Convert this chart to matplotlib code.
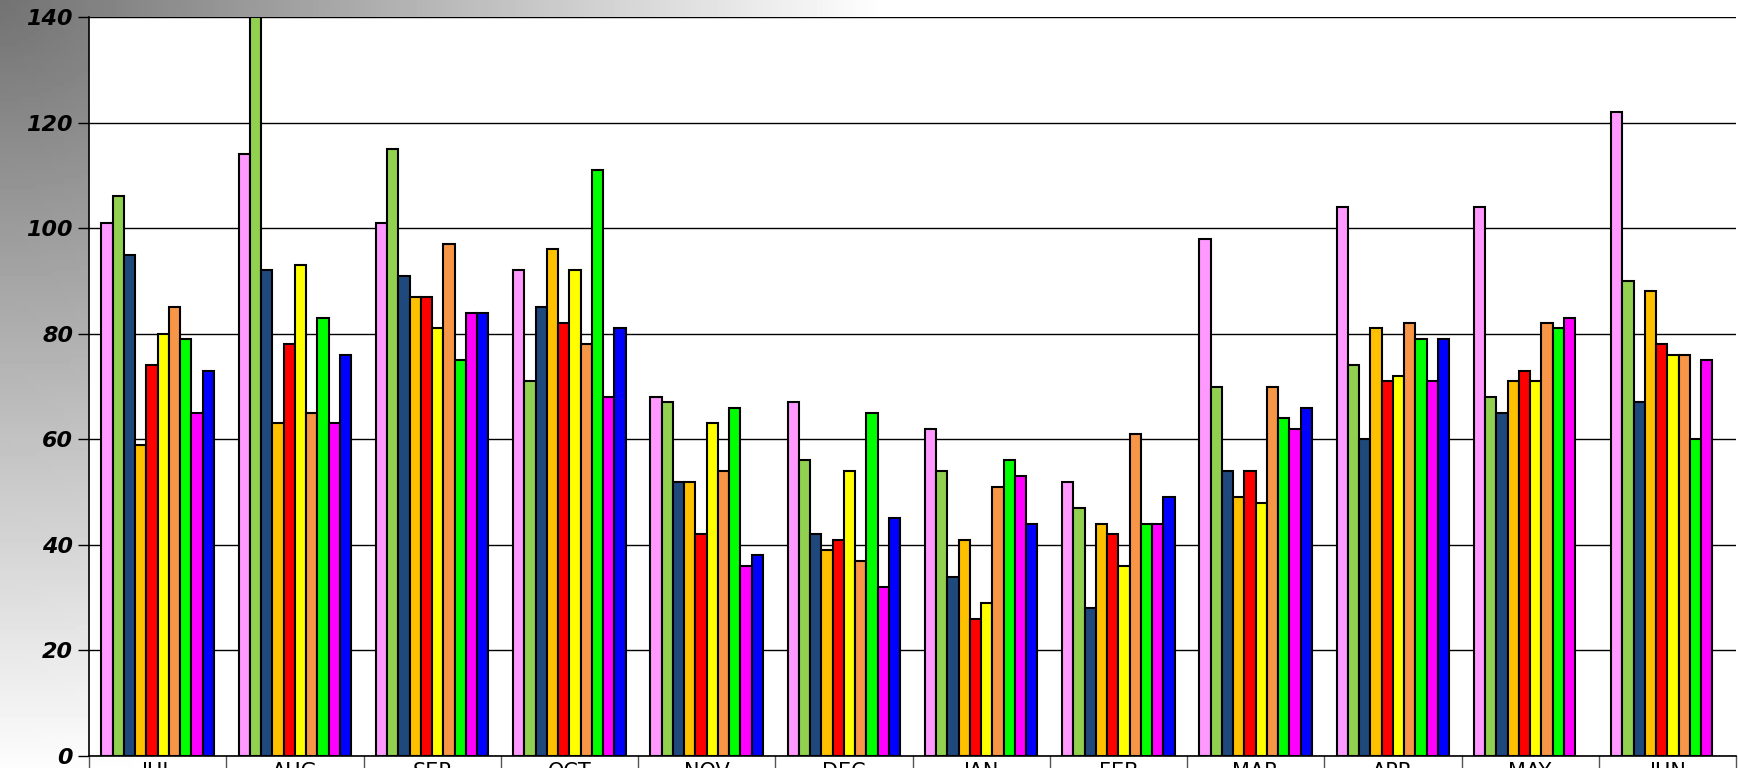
import numpy as np
import matplotlib
matplotlib.use('Agg')
import matplotlib.pyplot as plt

months = ["JUL", "AUG", "SEP", "OCT", "NOV", "DEC", "JAN", "FEB", "MAR", "APR", "MAY", "JUN"]
colors = ['#FF99FF', '#92D050', '#1F497D', '#FFC000', '#FF0000',
          '#FFFF00', '#F79646', '#00FF00', '#FF00FF', '#0000FF']
s1 = [101, 114, 101, 92, 68, 67, 62, 52, 98, 104, 104, 122]
s2 = [106, 140, 115, 71, 67, 56, 54, 47, 70, 74, 68, 90]
s3 = [95, 92, 91, 85, 52, 42, 34, 28, 54, 60, 65, 67]
s4 = [59, 63, 87, 96, 52, 39, 41, 44, 49, 81, 71, 88]
s5 = [74, 78, 87, 82, 42, 41, 26, 42, 54, 71, 73, 78]
s6 = [80, 93, 81, 92, 63, 54, 29, 36, 48, 72, 71, 76]
s7 = [85, 65, 97, 78, 54, 37, 51, 61, 70, 82, 82, 76]
s8 = [79, 83, 75, 111, 66, 65, 56, 44, 64, 79, 81, 60]
s9 = [65, 63, 84, 68, 36, 32, 53, 44, 62, 71, 83, 75]
s10 = [73, 76, 84, 81, 38, 45, 44, 49, 66, 79, np.nan, np.nan]
series = [s1, s2, s3, s4, s5, s6, s7, s8, s9, s10]

fig = plt.figure(figsize=(17.38, 7.68), dpi=100)
# gray gradient background
bg = fig.add_axes([0, 0, 1, 1], zorder=-10)
gx, gy = np.meshgrid(np.linspace(0, 1, 300), np.linspace(0, 1, 150))
g = np.clip(0.45 + 0.9 * np.hypot(gx * 1.2, (1 - gy) * 0.6), 0, 1)
bg.imshow(g, cmap='gray', vmin=0, vmax=1, aspect='auto', extent=[0, 1, 0, 1], origin='lower')
bg.axis('off')

ax = fig.add_axes([89 / 1738, 12 / 768, (1736 - 89) / 1738, (751 - 12) / 768])
ax.set_facecolor('white')
n = len(series)
w = 0.082
x = np.arange(len(months))
for i, s in enumerate(series):
    ax.bar(x + (i - (n - 1) / 2) * w, s, w, color=colors[i], edgecolor='black', linewidth=1.5, zorder=3)

ax.set_xlim(-0.5, len(months) - 0.5)
ax.set_ylim(0, 140)
ax.set_yticks(range(0, 141, 20))
ax.yaxis.grid(True, color='black', linewidth=1, zorder=0)
ax.tick_params(axis='y', labelsize=16, length=8, width=1)
for t in ax.get_yticklabels():
    t.set_fontweight('bold')
    t.set_fontstyle('italic')
ax.set_xticks(x)
ax.set_xticklabels(months, fontsize=15)
ax.tick_params(axis='x', length=0, pad=4)
for sp in ['top', 'right']:
    ax.spines[sp].set_visible(False)
ax.spines['left'].set_linewidth(1.2)
ax.spines['bottom'].set_linewidth(1.2)
# category cell separators under the axis
for b in np.arange(-0.5, len(months), 1.0):
    ax.plot([b, b], [0, -10], color='#555555', linewidth=1, clip_on=False)

fig.savefig('out.png')
